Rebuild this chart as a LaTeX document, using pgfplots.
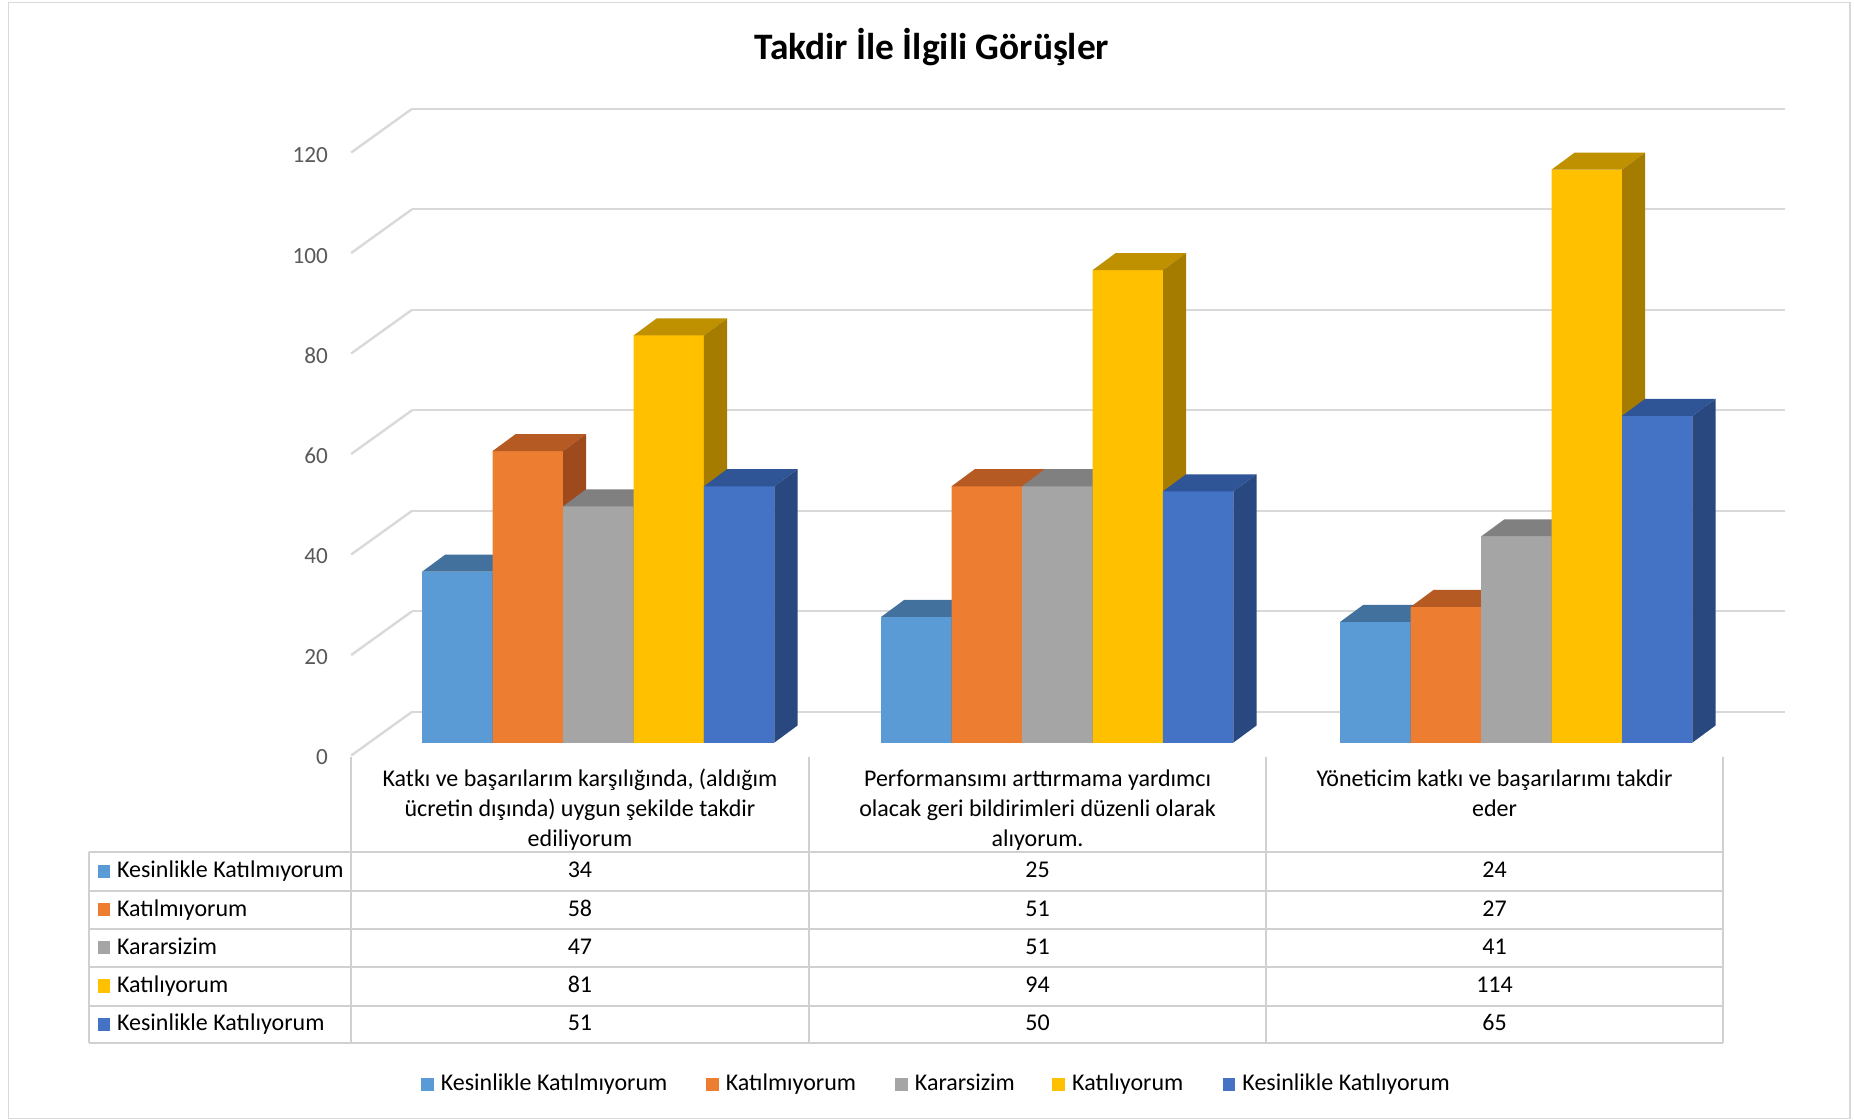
\documentclass[border=0pt]{standalone}
\usepackage{pgfplots}
\pgfplotsset{compat=1.18}
\usepackage{pgfplotstable}
\usepackage{fontspec}
\setmainfont{Carlito}

\definecolor{c1}{HTML}{5B9BD5}\definecolor{c1t}{HTML}{41719C}\definecolor{c1s}{HTML}{3A6590}
\definecolor{c2}{HTML}{ED7D31}\definecolor{c2t}{HTML}{B55A22}\definecolor{c2s}{HTML}{9E4A1C}
\definecolor{c3}{HTML}{A5A5A5}\definecolor{c3t}{HTML}{808080}\definecolor{c3s}{HTML}{6E6E6E}
\definecolor{c4}{HTML}{FFC000}\definecolor{c4t}{HTML}{BF9000}\definecolor{c4s}{HTML}{A67C00}
\definecolor{c5}{HTML}{4472C4}\definecolor{c5t}{HTML}{2F5597}\definecolor{c5s}{HTML}{2A4880}
\definecolor{gridc}{HTML}{D9D9D9}
\definecolor{tabc}{HTML}{D0D0D0}
\definecolor{tickc}{HTML}{595959}

\pgfplotstableread{
cat s1 s2 s3 s4 s5
0 34 58 47 81 51
1 25 51 51 94 50
2 24 27 41 114 65
}\data

% 3-D box: front face, top face and right side face, drawn at the data point
\newcommand{\declbox}[4]{%
\pgfdeclareplotmark{#1}{%
 \pgfmathsetmacro{\bh}{\barval*2.125}%
 \pgfpathrectanglecorners{\pgfpoint{-14.9pt}{-\bh pt}}{\pgfpoint{14.9pt}{0pt}}%
 \pgfsetfillcolor{#2}\pgfusepath{fill}%
 \pgfpathmoveto{\pgfpoint{-14.9pt}{0pt}}%
 \pgfpathlineto{\pgfpoint{14.9pt}{0pt}}%
 \pgfpathlineto{\pgfpoint{24.65pt}{7.2pt}}%
 \pgfpathlineto{\pgfpoint{-5.15pt}{7.2pt}}%
 \pgfpathclose
 \pgfsetfillcolor{#3}\pgfusepath{fill}%
 \pgfpathmoveto{\pgfpoint{14.9pt}{0pt}}%
 \pgfpathlineto{\pgfpoint{24.65pt}{7.2pt}}%
 \pgfpathlineto{\pgfpoint{24.65pt}{7.2pt-\bh pt}}%
 \pgfpathlineto{\pgfpoint{14.9pt}{-\bh pt}}%
 \pgfpathclose
 \pgfsetfillcolor{#4}\pgfusepath{fill}%
}}
\declbox{box1}{c1}{c1t}{c1s}
\declbox{box2}{c2}{c2t}{c2s}
\declbox{box3}{c3}{c3t}{c3s}
\declbox{box4}{c4}{c4t}{c4s}
\declbox{box5}{c5}{c5t}{c5s}

\newcommand{\tfont}{\fontsize{10.15}{12}\selectfont}

\begin{document}
\begin{tikzpicture}
\useasboundingbox (0pt,0pt) rectangle (784pt,473.5pt);
\fill[white] (0pt,0pt) rectangle (784pt,473.5pt);
\draw[gridc, line width=0.6pt] (3.5pt,0.5pt) rectangle (782.3pt,472.5pt);

% title
\node[anchor=base, inner sep=0pt] at (394pt,448.4pt) {\fontsize{15.8}{19}\selectfont\bfseries Takdir İle İlgili Görüşler};

% back wall gridlines
\begin{axis}[at={(174.25pt,172.5pt)}, anchor=south west, x=580.75pt, y=2.125pt,
  xmin=0, xmax=1, ymin=0, ymax=120, axis line style={draw=none},
  xtick=\empty, ytick={0,20,...,120}, yticklabels={}, major tick length=0pt,
  ymajorgrids, grid style={draw=gridc, line width=1pt}]
\addplot[draw=none] coordinates {(0,0)};
\end{axis}

% side wall lines
\foreach \v in {0,20,...,120}
  \draw[gridc, line width=1pt] ({148.5pt},{(154+2.125*\v)*1pt}) -- ({174.25pt},{(172.5+2.125*\v)*1pt});

% tick labels on the front edge
\begin{axis}[at={(148.5pt,154pt)}, anchor=south west, x=10pt, y=2.12pt,
  xmin=0, xmax=1, ymin=0, ymax=120, axis line style={draw=none},
  xtick=\empty, ytick={0,20,...,120}, major tick length=0pt,
  /pgf/number format/assume math mode=true,
  yticklabel style={anchor=east, inner sep=0pt, xshift=-9.7pt, yshift=-0.6pt, font=\fontsize{9.8}{12}\selectfont, text=tickc}]
\addplot[draw=none] coordinates {(0,0)};
\end{axis}

% bars
\begin{axis}[at={(155.95pt,159.5pt)}, anchor=south west, x=194.1pt, y=2.125pt,
  xmin=-0.5, xmax=2.5, ymin=0, ymax=120, axis line style={draw=none},
  xtick=\empty, ytick=\empty, clip=false, clip mode=individual]
\addplot[ybar, bar width=29.8pt, bar shift=0pt, fill=c1, draw=none] table[x expr=\thisrow{cat}-0.307, y=s1]{\data};
\addplot[only marks, mark=box1, visualization depends on={\thisrow{s1} \as \barval}] table[x expr=\thisrow{cat}-0.307, y=s1]{\data};
\addplot[ybar, bar width=29.8pt, bar shift=0pt, fill=c2, draw=none] table[x expr=\thisrow{cat}-0.1535, y=s2]{\data};
\addplot[only marks, mark=box2, visualization depends on={\thisrow{s2} \as \barval}] table[x expr=\thisrow{cat}-0.1535, y=s2]{\data};
\addplot[ybar, bar width=29.8pt, bar shift=0pt, fill=c3, draw=none] table[x expr=\thisrow{cat}, y=s3]{\data};
\addplot[only marks, mark=box3, visualization depends on={\thisrow{s3} \as \barval}] table[x expr=\thisrow{cat}, y=s3]{\data};
\addplot[ybar, bar width=29.8pt, bar shift=0pt, fill=c4, draw=none] table[x expr=\thisrow{cat}+0.1535, y=s4]{\data};
\addplot[only marks, mark=box4, visualization depends on={\thisrow{s4} \as \barval}] table[x expr=\thisrow{cat}+0.1535, y=s4]{\data};
\addplot[ybar, bar width=29.8pt, bar shift=0pt, fill=c5, draw=none] table[x expr=\thisrow{cat}+0.307, y=s5]{\data};
\addplot[only marks, mark=box5, visualization depends on={\thisrow{s5} \as \barval}] table[x expr=\thisrow{cat}+0.307, y=s5]{\data};
\end{axis}

% data table
\begin{scope}[tabc, line width=0.8pt]
\foreach \yy in {113.2,96.85,80.65,64.5,48.25,32.3}
  \draw (37.65pt,\yy pt) -- (728.5pt,\yy pt);
\draw (37.65pt,113.2pt) -- (37.65pt,32.3pt);
\foreach \xx in {148.5,342,535.5,728.5}
  \draw (\xx pt,153.5pt) -- (\xx pt,32.3pt);
\end{scope}

\begin{scope}[every node/.style={anchor=base, inner sep=0pt, font=\tfont, text=black}]
\node at (245.25pt,140.9pt) {Katkı ve başarılarım karşılığında, (aldığım};
\node at (245.25pt,128.2pt) {ücretin dışında) uygun şekilde takdir};
\node at (245.25pt,115.6pt) {ediliyorum};
\node at (438.75pt,140.9pt) {Performansımı arttırmama yardımcı};
\node at (438.75pt,128.2pt) {olacak geri bildirimleri düzenli olarak};
\node at (438.75pt,115.6pt) {alıyorum.};
\node at (632pt,140.9pt) {Yöneticim katkı ve başarılarımı takdir};
\node at (632pt,128.2pt) {eder};

\node at (245.25pt,102.4pt) {34}; \node at (438.75pt,102.4pt) {25}; \node at (632pt,102.4pt) {24};
\node at (245.25pt,86.15pt) {58}; \node at (438.75pt,86.15pt) {51}; \node at (632pt,86.15pt) {27};
\node at (245.25pt,70.0pt) {47}; \node at (438.75pt,70.0pt) {51}; \node at (632pt,70.0pt) {41};
\node at (245.25pt,53.8pt) {81}; \node at (438.75pt,53.8pt) {94}; \node at (632pt,53.8pt) {114};
\node at (245.25pt,37.7pt) {51}; \node at (438.75pt,37.7pt) {50}; \node at (632pt,37.7pt) {65};

\fill[c1] (41.25pt,102.4pt) rectangle ++(5.4pt,5.5pt);
\fill[c2] (41.25pt,86.15pt) rectangle ++(5.4pt,5.5pt);
\fill[c3] (41.25pt,70.0pt) rectangle ++(5.4pt,5.5pt);
\fill[c4] (41.25pt,53.8pt) rectangle ++(5.4pt,5.5pt);
\fill[c5] (41.25pt,37.7pt) rectangle ++(5.4pt,5.5pt);
\node[anchor=base west] at (49.3pt,102.4pt) {Kesinlikle Katılmıyorum};
\node[anchor=base west] at (49.3pt,86.15pt) {Katılmıyorum};
\node[anchor=base west] at (49.3pt,70.0pt) {Kararsizim};
\node[anchor=base west] at (49.3pt,53.8pt) {Katılıyorum};
\node[anchor=base west] at (49.3pt,37.7pt) {Kesinlikle Katılıyorum};

% legend
\fill[c1] (178pt,12.3pt) rectangle ++(5.4pt,5.4pt);
\node[anchor=base west] at (186.2pt,12.3pt) {Kesinlikle Katılmıyorum};
\fill[c2] (298.5pt,12.3pt) rectangle ++(5.4pt,5.4pt);
\node[anchor=base west] at (306.7pt,12.3pt) {Katılmıyorum};
\fill[c3] (378.5pt,12.3pt) rectangle ++(5.4pt,5.4pt);
\node[anchor=base west] at (386.7pt,12.3pt) {Kararsizim};
\fill[c4] (445pt,12.3pt) rectangle ++(5.4pt,5.4pt);
\node[anchor=base west] at (453.2pt,12.3pt) {Katılıyorum};
\fill[c5] (517pt,12.3pt) rectangle ++(5.4pt,5.4pt);
\node[anchor=base west] at (525.2pt,12.3pt) {Kesinlikle Katılıyorum};
\end{scope}
\end{tikzpicture}
\end{document}
